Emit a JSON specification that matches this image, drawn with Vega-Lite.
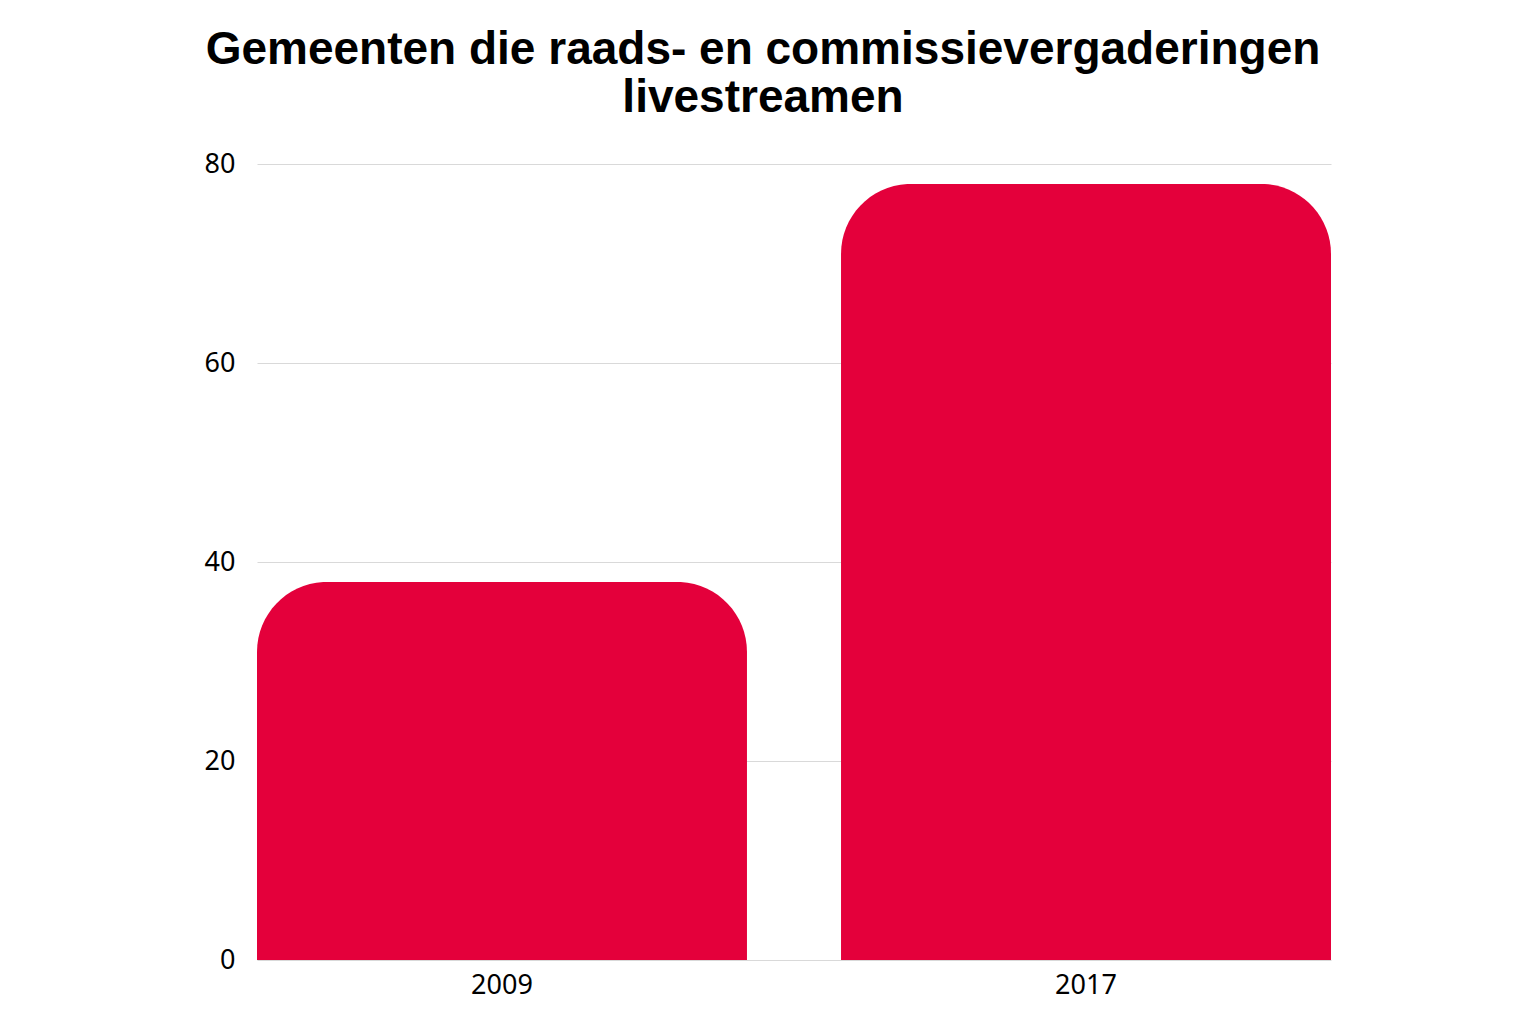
{
  "$schema": "https://vega.github.io/schema/vega-lite/v6.json",
  "width": 1074,
  "height": 796,
  "autosize": {"type": "none"},
  "padding": {"left": 257, "top": 164, "right": 205, "bottom": 64},
  "background": "white",
  "title": {
    "text": ["Gemeenten die raads- en commissievergaderingen", "livestreamen"],
    "font": "Liberation Sans",
    "fontSize": 46,
    "fontWeight": "bold",
    "color": "#000000",
    "anchor": "middle",
    "dx": -31,
    "offset": 28,
    "lineHeight": 48
  },
  "data": {
    "values": [
      {"Jaar": "2009", "Gemeenten": 38},
      {"Jaar": "2017", "Gemeenten": 78}
    ]
  },
  "mark": {
    "type": "bar",
    "color": "#E4003B",
    "cornerRadiusTopLeft": 70,
    "cornerRadiusTopRight": 70
  },
  "encoding": {
    "x": {
      "field": "Jaar",
      "type": "nominal",
      "title": null,
      "scale": {"paddingInner": 0.161, "paddingOuter": 0},
      "axis": {
        "labelAngle": 0,
        "labelFont": "Noto Sans",
        "labelFontSize": 27,
        "labelColor": "#000000",
        "labelPadding": 12,
        "ticks": false,
        "domain": false,
        "grid": false
      }
    },
    "y": {
      "field": "Gemeenten",
      "type": "quantitative",
      "title": null,
      "scale": {"domain": [0, 80]},
      "axis": {
        "values": [0, 20, 40, 60, 80],
        "labelFont": "Noto Sans",
        "labelFontSize": 27,
        "labelColor": "#000000",
        "labelPadding": 22,
        "ticks": false,
        "domain": false,
        "gridColor": "#d9d9d9",
        "gridWidth": 1
      }
    }
  },
  "config": {"view": {"stroke": null}}
}
